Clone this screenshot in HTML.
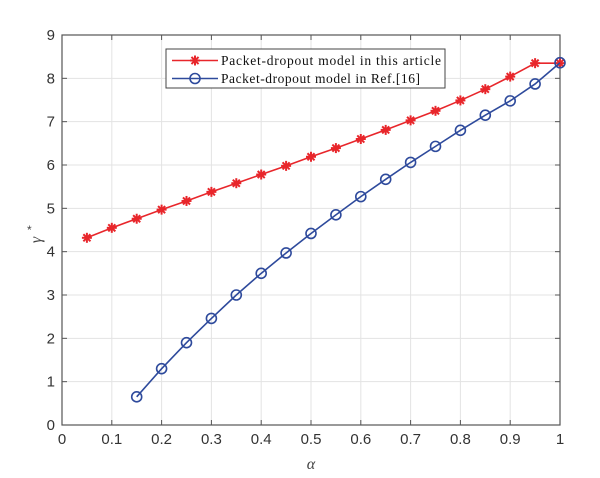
<!DOCTYPE html>
<html><head><meta charset="utf-8"><style>
html,body{margin:0;padding:0;background:#fff;width:600px;height:478px;overflow:hidden}
svg{display:block}
</style></head><body>
<svg id="s" width="600" height="478" xmlns="http://www.w3.org/2000/svg" font-family="Liberation Sans, sans-serif">
</svg>
<script>
const s=document.getElementById('s');
const X0=62,X1=560,Y0=425,Y1=35;
const fx=v=>X0+(X1-X0)*v, fy=v=>Y0-(Y0-Y1)*v/9;
let h='<rect x="'+X0+'" y="'+Y1+'" width="'+(X1-X0)+'" height="'+(Y0-Y1)+'" fill="#fff"/>';
for(let i=0;i<=10;i++){const x=fx(i/10);
 h+=`<line x1="${x}" y1="${Y1}" x2="${x}" y2="${Y0}" stroke="#e3e3e3" stroke-width="1"/>`;
 h+=`<line x1="${x}" y1="${Y0}" x2="${x}" y2="${Y0-5}" stroke="#555"/><line x1="${x}" y1="${Y1}" x2="${x}" y2="${Y1+5}" stroke="#555"/>`;
 h+=`<text x="${x}" y="${Y0+19}" font-size="15" fill="#333" text-anchor="middle">${i==0?'0':i==10?'1':'0.'+i}</text>`;}
for(let j=0;j<=9;j++){const y=fy(j);
 h+=`<line x1="${X0}" y1="${y}" x2="${X1}" y2="${y}" stroke="#e3e3e3" stroke-width="1"/>`;
 h+=`<line x1="${X0}" y1="${y}" x2="${X0+5}" y2="${y}" stroke="#555"/><line x1="${X1}" y1="${y}" x2="${X1-5}" y2="${y}" stroke="#555"/>`;
 h+=`<text x="${X0-7}" y="${y+5}" font-size="15" fill="#333" text-anchor="end">${j}</text>`;}
h+=`<rect x="${X0}" y="${Y1}" width="${X1-X0}" height="${Y0-Y1}" fill="none" stroke="#555" stroke-width="1.2"/>`;
const red=[4.32,4.55,4.76,4.97,5.17,5.38,5.58,5.78,5.98,6.19,6.39,6.6,6.81,7.03,7.25,7.49,7.75,8.04,8.35,8.35];
const blue=[0.65,1.3,1.9,2.46,3.0,3.5,3.97,4.42,4.85,5.27,5.67,6.06,6.43,6.8,7.15,7.48,7.87,8.36];
function star(x,y,c){let r=5,o='';for(let a=0;a<4;a++){const t=a*Math.PI/4;o+=`<line x1="${x-r*Math.cos(t)}" y1="${y-r*Math.sin(t)}" x2="${x+r*Math.cos(t)}" y2="${y+r*Math.sin(t)}" stroke="${c}" stroke-width="2"/>`;}return o;}
let pr=red.map((v,i)=>fx(0.05*(i+1))+','+fy(v)).join(' ');
h+=`<polyline points="${pr}" fill="none" stroke="#e8262b" stroke-width="1.6"/>`;
red.forEach((v,i)=>h+=star(fx(0.05*(i+1)),fy(v),'#e8262b'));
let pb=blue.map((v,i)=>fx(0.05*(i+3))+','+fy(v)).join(' ');
h+=`<polyline points="${pb}" fill="none" stroke="#2e4a9c" stroke-width="1.6"/>`;
blue.forEach((v,i)=>h+=`<circle cx="${fx(0.05*(i+3))}" cy="${fy(v)}" r="5" fill="none" stroke="#2e4a9c" stroke-width="1.6"/>`);
h+=`<rect x="166" y="49" width="279" height="39" fill="#fff" stroke="#444" stroke-width="1"/>`;
h+=`<line x1="172" y1="60.5" x2="218" y2="60.5" stroke="#e8262b" stroke-width="1.6"/>`+star(195,60.5,'#e8262b');
h+=`<line x1="172" y1="78.5" x2="218" y2="78.5" stroke="#2e4a9c" stroke-width="1.6"/><circle cx="195" cy="78.5" r="5" fill="none" stroke="#2e4a9c" stroke-width="1.6"/>`;
h+=`<text x="221" y="65" font-family="Liberation Serif, serif" font-size="13.5" fill="#111" textLength="220">Packet-dropout model in this article</text>`;
h+=`<text x="221" y="83" font-family="Liberation Serif, serif" font-size="13.5" fill="#111" textLength="199">Packet-dropout model in Ref.[16]</text>`;
h+=`<text x="311" y="469" font-family="Liberation Serif, serif" font-style="italic" font-size="16" fill="#444" text-anchor="middle">α</text>`;
h+=`<text transform="translate(41,240) rotate(-90)" font-family="Liberation Serif, serif" font-style="italic" font-size="16" fill="#444" text-anchor="middle">γ</text>`;
h+=`<text x="27" y="234" font-size="12" fill="#444">*</text>`;
s.innerHTML=h;
</script>
</body></html>
